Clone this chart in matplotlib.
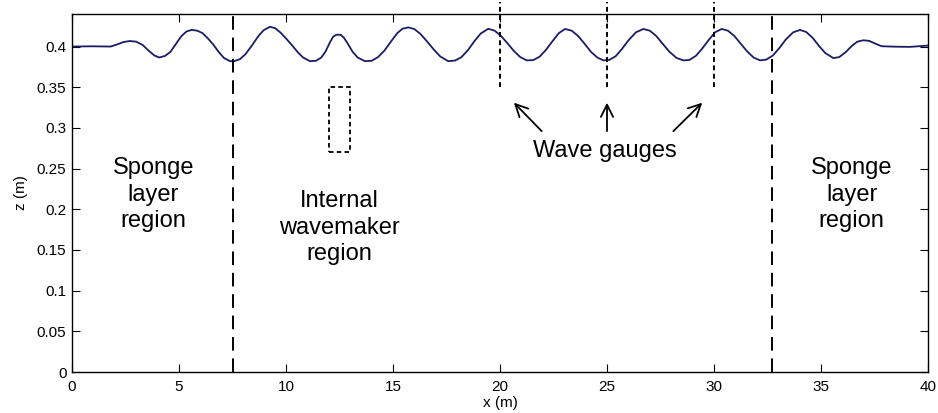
import matplotlib
matplotlib.use("Agg")
import matplotlib.pyplot as plt
from matplotlib.patches import Rectangle

plt.rcParams['font.family'] = ['Liberation Sans', 'DejaVu Sans']

# Free-surface profile (x in m, z in m)
x_surface = [0.0, 0.9, 1.8, 2.1, 2.4, 2.7, 3.0, 3.3, 3.6, 3.85, 4.08, 4.35, 4.6, 4.85, 5.1, 5.35,
             5.59, 5.85, 6.1, 6.35, 6.6, 6.85, 7.1, 7.38, 7.6, 7.85, 8.1, 8.4, 8.7, 8.95, 9.25,
             9.5, 9.75, 10.0, 10.3, 10.55, 10.8, 11.12, 11.4, 11.65, 11.85, 12.05, 12.2, 12.35,
             12.55, 12.7, 12.9, 13.1, 13.35, 13.69, 14.0, 14.3, 14.6, 14.9, 15.2, 15.45, 15.72,
             16.0, 16.3, 16.6, 16.9, 17.2, 17.58, 17.9, 18.2, 18.5, 18.8, 19.1, 19.45, 19.75,
             20.05, 20.35, 20.65, 20.95, 21.25, 21.55, 21.85, 22.15, 22.45, 22.75, 23.04, 23.35,
             23.65, 23.95, 24.25, 24.55, 24.83, 25.1, 25.4, 25.7, 26.0, 26.35, 26.7, 27.0, 27.3,
             27.6, 27.9, 28.25, 28.57, 28.85, 29.15, 29.45, 29.75, 30.05, 30.36, 30.65, 30.95,
             31.25, 31.55, 31.85, 32.15, 32.45, 32.75, 33.05, 33.35, 33.7, 34.02, 34.3, 34.6,
             34.9, 35.2, 35.58, 35.85, 36.15, 36.45, 36.7, 36.98, 37.25, 37.55, 37.83, 38.5,
             39.16, 39.94, 40.0]
z_surface = [0.4000, 0.4003, 0.4000, 0.4025, 0.4055, 0.4068, 0.4060, 0.4020, 0.3945, 0.3890,
             0.3865, 0.3885, 0.3935, 0.4030, 0.4125, 0.4185, 0.4205, 0.4195, 0.4165, 0.4100,
             0.4025, 0.3935, 0.3860, 0.3820, 0.3822, 0.3845, 0.3905, 0.4010, 0.4125, 0.4200,
             0.4243, 0.4225, 0.4170, 0.4100, 0.4010, 0.3930, 0.3865, 0.3820, 0.3825, 0.3865,
             0.3940, 0.4050, 0.4120, 0.4145, 0.4145, 0.4110, 0.4030, 0.3940, 0.3865, 0.3820,
             0.3825, 0.3870, 0.3950, 0.4060, 0.4165, 0.4220, 0.4235, 0.4215, 0.4150, 0.4060,
             0.3965, 0.3880, 0.3820, 0.3828, 0.3870, 0.3955, 0.4065, 0.4160, 0.4218, 0.4195,
             0.4130, 0.4040, 0.3945, 0.3870, 0.3830, 0.3833, 0.3875, 0.3960, 0.4065, 0.4165,
             0.4216, 0.4195, 0.4130, 0.4035, 0.3935, 0.3865, 0.3830, 0.3835, 0.3880, 0.3970,
             0.4075, 0.4175, 0.4216, 0.4195, 0.4130, 0.4035, 0.3940, 0.3860, 0.3830, 0.3835,
             0.3885, 0.3975, 0.4080, 0.4175, 0.4216, 0.4195, 0.4130, 0.4035, 0.3940, 0.3865,
             0.3830, 0.3840, 0.3890, 0.3980, 0.4085, 0.4175, 0.4204, 0.4180, 0.4110, 0.4010,
             0.3920, 0.3858, 0.3870, 0.3930, 0.4010, 0.4060, 0.4077, 0.4070, 0.4035, 0.4004,
             0.3998, 0.3996, 0.4012, 0.4012]

sponge_bounds = [7.5, 32.7]
gauge_x = [20, 25, 30]
gauge_z = [0.35, 0.455]
wavemaker_x = [12.0, 13.0]
wavemaker_z = [0.27, 0.35]

x_ticks = [0, 5, 10, 15, 20, 25, 30, 35, 40]
y_ticks = [0, 0.05, 0.1, 0.15, 0.2, 0.25, 0.3, 0.35, 0.4]
y_tick_labels = ['0', '0.05', '0.1', '0.15', '0.2', '0.25', '0.3', '0.35', '0.4']

fig = plt.figure(figsize=(9.38, 4.13), dpi=100)
ax = fig.add_axes([72/938, 41/413, 856/938, 358/413])

ax.plot(x_surface, z_surface, color='#1c1c66', lw=1.3, solid_joinstyle='round')

for xb in sponge_bounds:
    ax.plot([xb, xb], [0, 0.44], color='black', lw=1.4, dashes=(7, 4))

for xg in gauge_x:
    ax.plot([xg, xg], gauge_z, color='black', lw=1.4, dashes=(2.5, 1.8), clip_on=False)

ax.add_patch(Rectangle((wavemaker_x[0], wavemaker_z[0]), wavemaker_x[1]-wavemaker_x[0],
                       wavemaker_z[1]-wavemaker_z[0], fill=False, ec='black', lw=1.3,
                       ls=(0, (2.5, 1.8))))

arrow_props = dict(arrowstyle='->', color='black', lw=1.3, mutation_scale=22, shrinkA=0, shrinkB=0)
ax.annotate('', xy=(20.65, 0.331), xytext=(21.95, 0.296), arrowprops=arrow_props)
ax.annotate('', xy=(25.0, 0.331), xytext=(25.0, 0.296), arrowprops=arrow_props)
ax.annotate('', xy=(29.45, 0.331), xytext=(28.1, 0.296), arrowprops=arrow_props)

fs = 17
ls = 1.28
ax.text(24.9, 0.2715, 'Wave gauges', fontsize=fs, ha='center', va='center')
ax.text(3.8, 0.218, 'Sponge\nlayer\nregion', fontsize=fs, ha='center', va='center', linespacing=ls)
ax.text(36.43, 0.218, 'Sponge\nlayer\nregion', fontsize=fs, ha='center', va='center', linespacing=ls)
ax.text(12.5, 0.1775, 'Internal\nwavemaker\nregion', fontsize=fs, ha='center', va='center', linespacing=ls)

ax.set_xlim(0, 40)
ax.set_ylim(0, 0.44)
ax.set_xticks(x_ticks)
ax.set_yticks(y_ticks)
ax.set_yticklabels(y_tick_labels)
ax.tick_params(direction='in', top=True, right=True, length=6, width=0.8, labelsize=11)
ax.tick_params(axis='x', pad=6)
ax.tick_params(axis='y', pad=4)
ax.set_xlabel('x (m)', fontsize=11, labelpad=1)
ax.set_ylabel('z (m)', fontsize=11, labelpad=6)
for s in ax.spines.values():
    s.set_linewidth(1.0)

fig.savefig('out.png', dpi=100)
